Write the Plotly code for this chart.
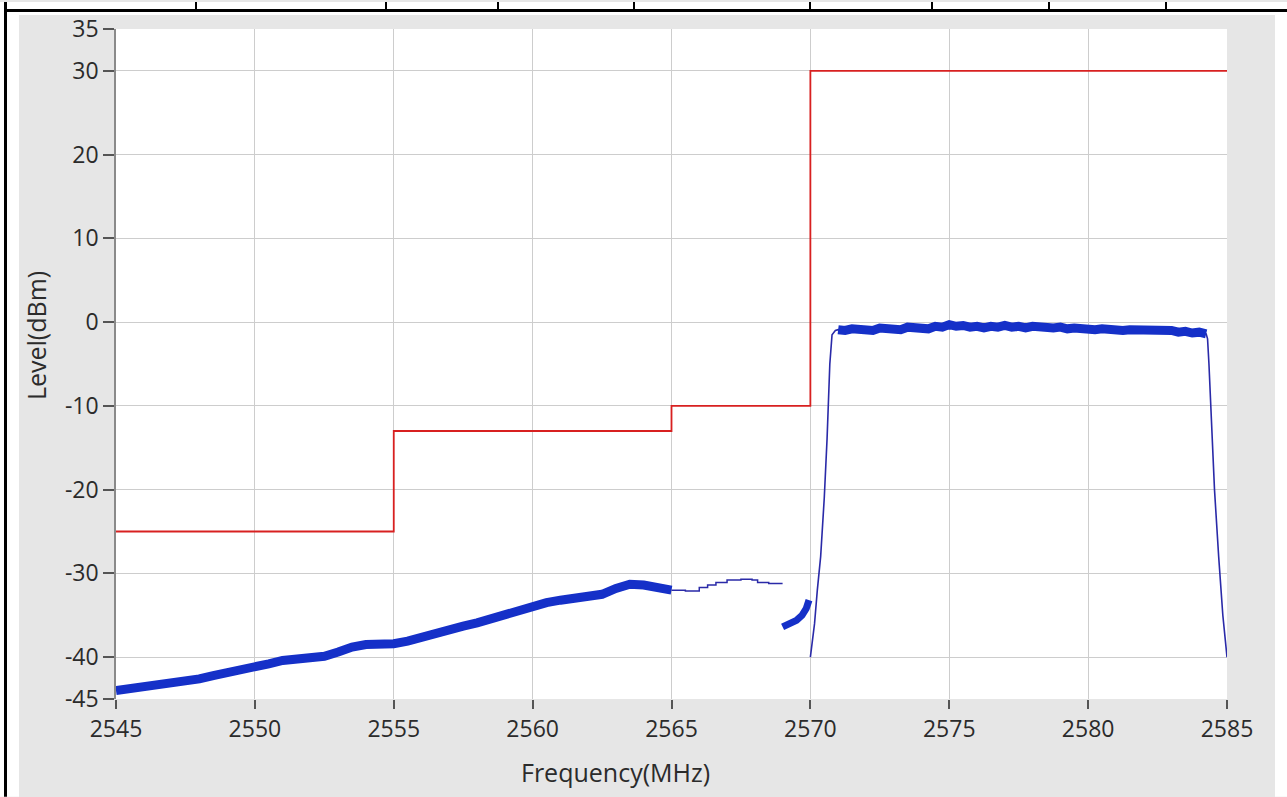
import plotly.graph_objects as go

# ---------------- data ----------------
limit_freq = [2545, 2555, 2565, 2570, 2585]
limit_level = [-25, -13, -10, 30, 30]

low_freq = [2545, 2545.5, 2546, 2546.5, 2547, 2547.5, 2548, 2548.5, 2549, 2549.5,
            2550, 2550.5, 2551, 2551.5, 2552, 2552.5, 2553, 2553.5, 2554, 2554.5,
            2555, 2555.5, 2556, 2556.5, 2557, 2557.5, 2558, 2558.5, 2559, 2559.5,
            2560, 2560.5, 2561, 2561.5, 2562, 2562.5, 2563, 2563.5, 2564, 2564.5, 2565]
low_level = [-44.0, -43.8, -43.6, -43.4, -43.2, -43.0, -42.6, -42.2, -41.9, -41.6,
             -41.2, -40.8, -40.4, -40.3, -40.1, -39.9, -39.4, -38.8, -38.5, -38.5,
             -38.4, -38.1, -37.6, -37.1, -36.7, -36.3, -35.9, -35.4, -35.0, -34.5,
             -33.9, -33.5, -33.2, -32.9, -32.8, -32.5, -31.8, -31.3, -31.4, -31.7, -32.0]

mid_freq = [2565.0, 2565.5, 2565.8, 2566.0, 2566.3, 2566.6, 2567.0, 2567.5, 2567.9, 2568.1, 2568.5, 2569.0]
mid_level = [-32.0, -32.1, -32.1, -31.7, -31.4, -31.1, -30.8, -30.7, -30.8, -31.1, -31.2, -31.2]

edge_freq = [2569.0, 2569.3, 2569.5, 2569.7, 2569.85, 2569.95]
edge_level = [-36.4, -36.0, -35.6, -35.0, -34.2, -33.2]

rise_freq = [2570.0, 2570.15, 2570.25, 2570.37, 2570.5, 2570.6, 2570.7, 2570.78, 2570.9]
rise_level = [-40.0, -36.0, -32.0, -28.0, -21.0, -14.0, -5.0, -1.5, -1.0]

top_freq = [2571.0, 2571.25, 2571.5, 2571.75, 2572.0, 2572.25, 2572.5, 2572.75, 2573.0, 2573.25,
            2573.5, 2573.75, 2574.0, 2574.25, 2574.5, 2574.75, 2575.0, 2575.25, 2575.5, 2575.75,
            2576.0, 2576.25, 2576.5, 2576.75, 2577.0, 2577.25, 2577.5, 2577.75, 2578.0, 2578.25,
            2578.5, 2578.75, 2579.0, 2579.25, 2579.5, 2579.75, 2580.0, 2580.25, 2580.5, 2580.75,
            2581.0, 2581.25, 2581.5, 2581.75, 2582.0, 2582.25, 2582.5, 2582.75, 2583.0, 2583.25,
            2583.5, 2583.75, 2584.0, 2584.25]
top_level = [-0.9, -1.0, -0.8, -0.9, -0.8, -1.0, -0.7, -0.8, -0.7, -0.9,
             -0.6, -0.6, -0.7, -0.8, -0.5, -0.6, -0.3, -0.5, -0.4, -0.6,
             -0.5, -0.7, -0.5, -0.6, -0.4, -0.6, -0.5, -0.7, -0.5, -0.6,
             -0.6, -0.7, -0.6, -0.8, -0.7, -0.8, -0.7, -0.9, -0.8, -0.9,
             -0.8, -1.0, -0.9, -0.9, -0.9, -1.1, -1.0, -1.1, -1.0, -1.2,
             -1.1, -1.3, -1.2, -1.4]

fall_freq = [2584.3, 2584.35, 2584.45, 2584.55, 2584.7, 2584.85, 2585.0]
fall_level = [-2.0, -5.0, -12.0, -20.0, -28.0, -35.0, -40.0]

x_ticks = [2545, 2550, 2555, 2560, 2565, 2570, 2575, 2580, 2585]
y_ticks = [35, 30, 20, 10, 0, -10, -20, -30, -40, -45]
x_title = "Frequency(MHz)"
y_title = "Level(dBm)"

# ---------------- layout geometry ----------------
W, H = 1287, 797
L, R, T, B = 116, 60, 27, 98
PW, PH = W - L - R, H - T - B

def px(x):
    return (x - L) / PW

def py(y):
    return (H - B - y) / PH

BLUE_THICK = "#1530c8"
BLUE_THIN = "#2a2aa8"
RED = "#d82020"

fig = go.Figure()
fig.add_trace(go.Scatter(x=limit_freq, y=limit_level, mode="lines",
                         line=dict(color=RED, width=1.8, shape="hv"), hoverinfo="skip"))
fig.add_trace(go.Scatter(x=low_freq, y=low_level, mode="lines",
                         line=dict(color=BLUE_THICK, width=9), hoverinfo="skip"))
fig.add_trace(go.Scatter(x=mid_freq, y=mid_level, mode="lines",
                         line=dict(color=BLUE_THIN, width=1.5, shape="hv"), hoverinfo="skip"))
fig.add_trace(go.Scatter(x=edge_freq, y=edge_level, mode="lines",
                         line=dict(color=BLUE_THICK, width=7), hoverinfo="skip"))
sig_freq = rise_freq + top_freq + fall_freq
sig_level = rise_level + top_level + fall_level
fig.add_trace(go.Scatter(x=sig_freq, y=sig_level, mode="lines",
                         line=dict(color=BLUE_THIN, width=1.6), hoverinfo="skip"))
fig.add_trace(go.Scatter(x=top_freq, y=top_level, mode="lines",
                         line=dict(color=BLUE_THICK, width=9), hoverinfo="skip"))

FONT = "Open Sans"
TXT = "#2b2b2b"

fig.update_xaxes(range=[2545, 2585], tickvals=x_ticks, ticktext=[str(v) for v in x_ticks],
                 showgrid=True, gridcolor="#cdcdcd", gridwidth=1, zeroline=False,
                 ticks="outside", ticklen=9, tickcolor="#555", tickwidth=1.5,
                 showline=False, tickfont=dict(family=FONT, size=23, color=TXT))
fig.update_yaxes(range=[-45, 35], tickvals=y_ticks, ticktext=[str(v) for v in y_ticks],
                 showgrid=True, gridcolor="#cdcdcd", gridwidth=1, zeroline=False,
                 ticks="outside", ticklen=11, tickcolor="#555", tickwidth=1.5,
                 showline=True, linecolor="#8a8a8a", linewidth=1.5,
                 tickfont=dict(family=FONT, size=23, color=TXT))

shapes = []
# white strips outside the grey panel
shapes.append(dict(type="rect", xref="paper", yref="paper", x0=px(0), x1=px(19), y0=py(H), y1=py(0),
                   fillcolor="white", line_width=0, layer="below"))
shapes.append(dict(type="rect", xref="paper", yref="paper", x0=px(0), x1=px(W), y0=py(13), y1=py(0),
                   fillcolor="white", line_width=0, layer="below"))
shapes.append(dict(type="rect", xref="paper", yref="paper", x0=px(1275), x1=px(W), y0=py(H), y1=py(0),
                   fillcolor="white", line_width=0, layer="below"))
# table border lines
shapes.append(dict(type="rect", xref="paper", yref="paper", x0=px(4), x1=px(7), y0=py(H), y1=py(0),
                   fillcolor="black", line_width=0, layer="below"))
shapes.append(dict(type="rect", xref="paper", yref="paper", x0=px(4), x1=px(W), y0=py(10), y1=py(7),
                   fillcolor="black", line_width=0, layer="below"))
for cx in [195, 385, 497, 633, 809, 931, 1048, 1165]:
    shapes.append(dict(type="rect", xref="paper", yref="paper", x0=px(cx), x1=px(cx + 2), y0=py(8), y1=py(0),
                       fillcolor="black", line_width=0, layer="below"))

annotations = [
    dict(text=x_title, xref="paper", yref="paper", x=px(615), y=py(772), showarrow=False,
         font=dict(family=FONT, size=25, color=TXT), xanchor="center", yanchor="middle"),
    dict(text=y_title, xref="paper", yref="paper", x=px(36), y=py(335), showarrow=False, textangle=-90,
         font=dict(family=FONT, size=25, color=TXT), xanchor="center", yanchor="middle"),
]

fig.update_layout(width=W, height=H, margin=dict(l=L, r=R, t=T, b=B, pad=0),
                  paper_bgcolor="#e6e6e6", plot_bgcolor="white", showlegend=False,
                  shapes=shapes, annotations=annotations)

fig.write_html("out.html", config={"displayModeBar": False},
               post_script="document.body.style.margin='0px';document.body.style.overflow='hidden';")
